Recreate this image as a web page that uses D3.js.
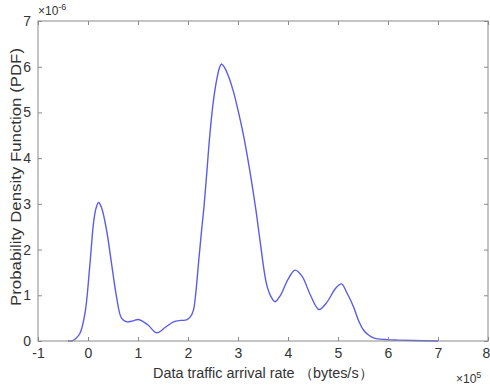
<!DOCTYPE html>
<html><head><meta charset="utf-8">
<script src="https://cdn.jsdelivr.net/npm/d3@7"></script>
<style>body{margin:0;background:#fff}svg{display:block;font-family:"Liberation Sans",Arial,sans-serif}</style>
</head><body><svg id="c" width="490" height="389"></svg>
<script>
const xVals = [-0.4,-0.33,-0.25,-0.16,-0.06,0.04,0.11,0.16,0.21,0.27,0.37,0.47,0.57,0.67,0.77,0.9,1.01,1.2,1.37,1.55,1.71,1.85,1.97,2.06,2.11,2.16,2.21,2.27,2.32,2.37,2.44,2.51,2.58,2.63,2.67,2.72,2.8,2.91,3.0,3.11,3.24,3.36,3.44,3.57,3.66,3.74,3.85,4.0,4.14,4.28,4.45,4.62,4.78,4.95,5.07,5.18,5.31,5.41,5.51,5.61,5.71,5.85,5.97,6.2,6.5,7.0];
const yVals = [0,0,0.05,0.17,0.61,1.7,2.58,2.9,3.03,2.92,2.43,1.7,0.97,0.5,0.42,0.44,0.47,0.35,0.18,0.3,0.42,0.45,0.46,0.55,0.68,1.1,1.7,2.4,2.94,3.6,4.55,5.27,5.75,5.98,6.06,6.0,5.82,5.45,5.05,4.5,3.7,2.85,2.2,1.25,0.97,0.86,1.0,1.35,1.55,1.42,1.0,0.69,0.85,1.15,1.25,1.05,0.75,0.45,0.24,0.13,0.07,0.04,0.03,0.02,0.01,0];
const xTicks = [-1,0,1,2,3,4,5,6,7,8];
const yTicks = [0,1,2,3,4,5,6,7];
const xLabel = "Data traffic arrival rate （bytes/s）";
const yLabel = "Probability Density Function (PDF)";

const L=38,R=488,T=21,B=341;
const svg=d3.select("#c");
const x=d3.scaleLinear().domain([-1,8]).range([L,R]);
const y=d3.scaleLinear().domain([0,7]).range([B,T]);
const axCol="#8a8a8a", txtCol="#333";
const fmt=d=>String(d);

const data=xVals.map((v,i)=>[v,yVals[i]]);
svg.append("path").datum(data)
  .attr("d",d3.line().x(d=>x(d[0])).y(d=>y(d[1])).curve(d3.curveCatmullRom))
  .attr("fill","none").attr("stroke","#5c5ce8").attr("stroke-width",1.4);

function styleAxis(g,hideText){
  g.select(".domain").remove();
  g.selectAll(".tick line").attr("stroke",axCol);
  g.selectAll(".tick text").attr("fill",txtCol).attr("font-size",14).attr("font-family","Liberation Sans, Arial, sans-serif");
  if(hideText) g.selectAll(".tick text").remove();
}
svg.append("g").attr("transform",`translate(0,${B})`)
  .call(d3.axisBottom(x).tickValues(xTicks).tickFormat(fmt).tickSizeInner(-4).tickSizeOuter(0).tickPadding(7))
  .call(g=>styleAxis(g,false))
  .call(g=>g.selectAll(".tick text").filter(d=>d===8).attr("dx",-2));
svg.append("g").attr("transform",`translate(0,${T})`)
  .call(d3.axisTop(x).tickValues(xTicks).tickSizeInner(-4).tickSizeOuter(0))
  .call(g=>styleAxis(g,true));
svg.append("g").attr("transform",`translate(${L},0)`)
  .call(d3.axisLeft(y).tickValues(yTicks).tickFormat(fmt).tickSizeInner(-4).tickSizeOuter(0).tickPadding(7))
  .call(g=>styleAxis(g,false));
svg.append("g").attr("transform",`translate(${R},0)`)
  .call(d3.axisRight(y).tickValues(yTicks).tickSizeInner(-4).tickSizeOuter(0))
  .call(g=>styleAxis(g,true));
svg.append("rect").attr("x",L).attr("y",T).attr("width",R-L).attr("height",B-T)
  .attr("fill","none").attr("stroke",axCol).attr("stroke-width",1);

svg.append("text").attr("x",263).attr("y",378).attr("text-anchor","middle")
  .attr("font-size",14).attr("fill",txtCol)
  .attr("textLength",220).attr("lengthAdjust","spacingAndGlyphs").text(xLabel);
svg.append("text").attr("transform",`translate(21,177) rotate(-90)`).attr("text-anchor","middle")
  .attr("font-size",14).attr("fill",txtCol)
  .attr("textLength",258).attr("lengthAdjust","spacingAndGlyphs").text(yLabel);

const e1=svg.append("text").attr("x",456).attr("y",383).attr("font-size",12).attr("fill",txtCol);
e1.append("tspan").text("×10");
e1.append("tspan").attr("dy",-5).attr("font-size",9).text("5");
const e2=svg.append("text").attr("x",38).attr("y",15).attr("font-size",12).attr("fill",txtCol);
e2.append("tspan").text("×10");
e2.append("tspan").attr("dy",-5).attr("font-size",9).text("-6");
</script></body></html>
